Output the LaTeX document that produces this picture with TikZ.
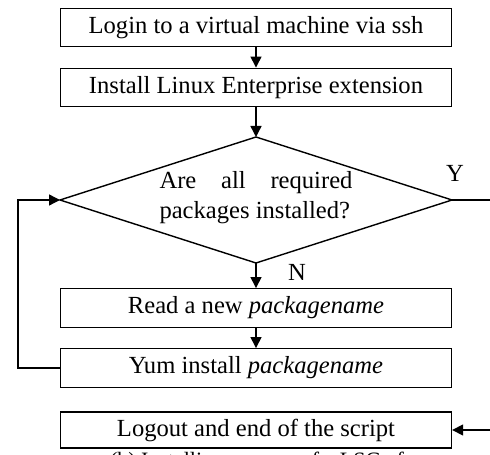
\documentclass[tikz,border=0pt]{standalone}
\usepackage{fontspec}
\setmainfont{Liberation Serif}
\usetikzlibrary{arrows.meta}

\begin{document}
\begin{tikzpicture}[x=0.02cm, y=-0.02cm,
    stepbox/.style={draw, thick, minimum width=7.82cm, minimum height=0.77cm, inner sep=0pt, font=\fontsize{14}{17}\selectfont},
    arr/.style={thick, -{Triangle[length=2.2mm, width=2.2mm]}},
    lbl/.style={font=\fontsize{14}{17}\selectfont, inner sep=0pt}]
    \useasboundingbox (0, 0) rectangle (490, 455);
    \clip (0, 0) rectangle (490, 455);

    \node[stepbox] (login) at (256, 27.5) {Login to a virtual machine via ssh};
    \node[stepbox] (ext) at (256, 87.5) {Install Linux Enterprise extension};

    % decision
    \coordinate (dt) at (256, 137);
    \coordinate (dr) at (452, 200);
    \coordinate (db) at (256, 263);
    \coordinate (dl) at (60, 200);
    \draw[thick] (dt) -- (dr) -- (db) -- (dl) -- cycle;
    \node[lbl, text width=3.86cm, align=justify] (ask) at (256, 198) {Are all required packages installed?};
    \node[lbl] (yes) at (455, 173) {Y};
    \node[lbl] (no) at (297, 272) {N};

    \node[stepbox] (read) at (256, 308) {Read a new \textit{packagename}};
    \node[stepbox] (yum) at (256, 368) {Yum install \textit{packagename}};
    \node[stepbox, minimum height=0.72cm] (logout) at (256, 430) {Logout and end of the script};
    \node[font=\fontsize{12.5}{15}\selectfont, inner sep=0pt, anchor=north] (cap) at (257, 452) {(b) Installing process of a LSC of};

    \draw[arr] (login) -- (ext);
    \draw[arr] (ext) -- (dt);
    \draw[arr] (db) -- (read);
    \draw[arr] (read) -- (yum);
    \draw[arr] (yum.west) -- ++(-42, 0) |- (dl);
    \coordinate (out) at (500, 200);
    \draw[arr] (dr) -- (out) |- (logout.east);

\end{tikzpicture}
\end{document}
